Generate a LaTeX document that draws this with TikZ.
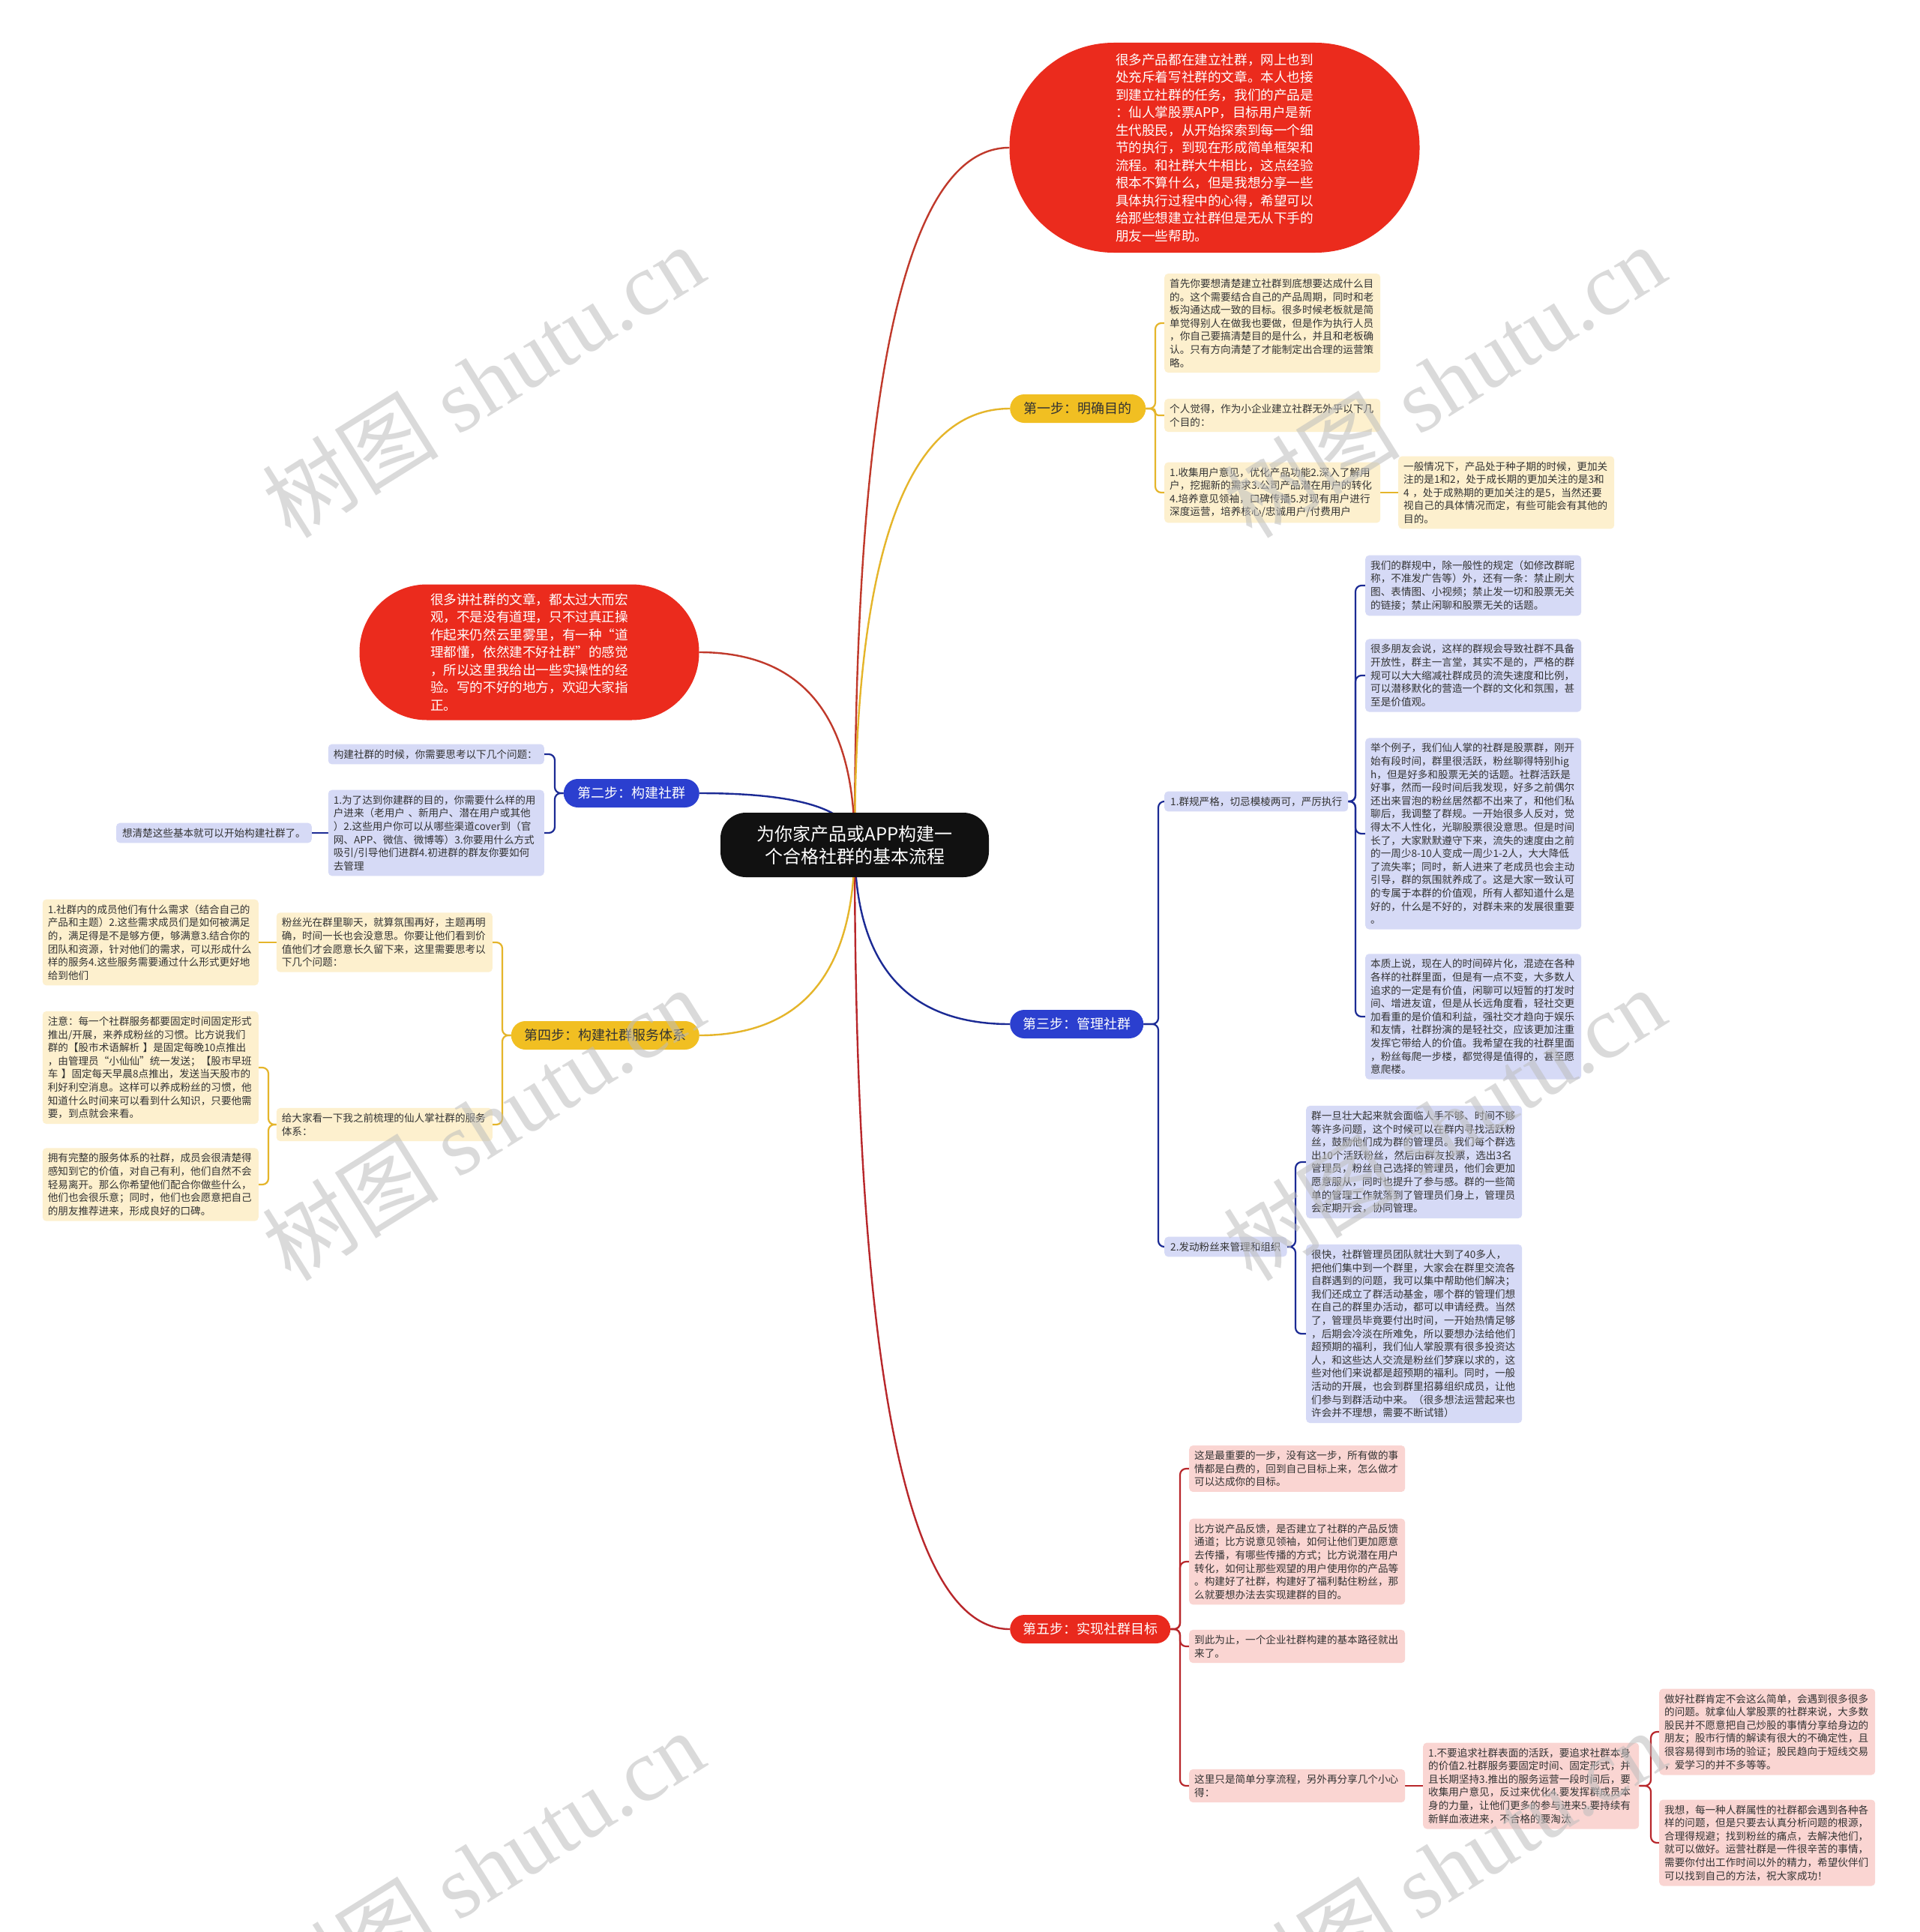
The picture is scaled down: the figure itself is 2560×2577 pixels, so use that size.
\documentclass[tikz,border=0pt]{standalone}
\usepackage{fontspec}
\setmainfont{Noto Sans CJK SC}
\newfontfamily\wmlatin{Liberation Serif}
\definecolor{rootfill}{HTML}{111111}
\definecolor{bigred}{HTML}{EB2B1D}
\definecolor{stepyellow}{HTML}{F1BF22}
\definecolor{stepblue}{HTML}{2B3FCF}
\definecolor{stepred}{HTML}{E9291D}
\definecolor{ynotefill}{HTML}{FDF0CE}
\definecolor{bnotefill}{HTML}{D6DAF6}
\definecolor{rnotefill}{HTML}{FAD5D2}
\definecolor{notetext}{HTML}{333333}
\definecolor{yline}{HTML}{E5B52A}
\definecolor{bline}{HTML}{1B2A94}
\definecolor{rline}{HTML}{B8272B}
\definecolor{introline}{HTML}{C0392B}
\definecolor{wmgray}{HTML}{BDBDBD}
\pgfdeclarelayer{bg}
\pgfdeclarelayer{fg}
\pgfsetlayers{bg,main,fg}
\tikzset{
  rootbox/.style={fill=rootfill, text=white, rounded corners=34pt, minimum width=358pt, minimum height=86pt, align=center, font=\fontsize{24}{30}\selectfont},
  bigbubble/.style={fill=bigred, text=white, align=left, font=\fontsize{17.6}{23.5}\selectfont},
  stepbox/.style={rounded corners=19pt, minimum height=38pt, inner xsep=14pt, font=\fontsize{18}{22}\selectfont},
  yellowstep/.style={stepbox, fill=stepyellow, text=notetext},
  bluestep/.style={stepbox, fill=stepblue, text=white},
  redstep/.style={stepbox, fill=stepred, text=white},
  notebase/.style={rounded corners=5pt, inner xsep=7pt, inner ysep=7pt, align=left, text=notetext, font=\fontsize{13.6}{17.6}\selectfont},
  notebox/.style={notebase, text width=274pt},
  ynote/.style={notebox, fill=ynotefill},
  bnote/.style={notebox, fill=bnotefill},
  rnote/.style={notebox, fill=rnotefill},
  bsingle/.style={notebase, fill=bnotefill, inner xsep=8pt},
  rootline/.style={line width=2.4pt},
  brk/.style={line width=2.2pt, rounded corners=8pt},
  wmark/.style={text=wmgray, opacity=0.55, rotate=32, font=\fontsize{118}{130}\selectfont}
}
\begin{document}
\begin{tikzpicture}[x=1pt,y=-1pt]
\useasboundingbox (0,0) rectangle (2560,2577);

% root
\node[rootbox] (root) at (1140,1127) {为你家产品或APP构建一\\个合格社群的基本流程};

% intro bubbles
\node[bigbubble, minimum width=547pt, minimum height=280pt, rounded corners=139pt] (intro1) at (1620,197) {很多产品都在建立社群，网上也到\\处充斥着写社群的文章。本人也接\\到建立社群的任务，我们的产品是\\：仙人掌股票APP，目标用户是新\\生代股民，从开始探索到每一个细\\节的执行，到现在形成简单框架和\\流程。和社群大牛相比，这点经验\\根本不算什么，但是我想分享一些\\具体执行过程中的心得，希望可以\\给那些想建立社群但是无从下手的\\朋友一些帮助。};
\node[bigbubble, minimum width=453pt, minimum height=181pt, rounded corners=90pt] (intro2) at (706,870) {很多讲社群的文章，都太过大而宏\\观，不是没有道理，只不过真正操\\作起来仍然云里雾里，有一种“道\\理都懂，依然建不好社群”的感觉\\，所以这里我给出一些实操性的经\\验。写的不好的地方，欢迎大家指\\正。};

% steps
\node[yellowstep, anchor=west, minimum width=181pt] (s1) at (1347,545) {第一步：明确目的};
\node[bluestep, anchor=east, minimum width=181pt] (s2) at (933,1058) {第二步：构建社群};
\node[bluestep, anchor=west, minimum width=178pt] (s3) at (1347,1366) {第三步：管理社群};
\node[yellowstep, anchor=east, minimum width=251pt] (s4) at (933,1381) {第四步：构建社群服务体系};
\node[redstep, anchor=west, minimum width=214pt] (s5) at (1347,2173) {第五步：实现社群目标};

% step 1 notes
\node[ynote, anchor=west] (n1a) at (1553,431) {首先你要想清楚建立社群到底想要达成什么目\\的。这个需要结合自己的产品周期，同时和老\\板沟通达成一致的目标。很多时候老板就是简\\单觉得别人在做我也要做，但是作为执行人员\\，你自己要搞清楚目的是什么，并且和老板确\\认。只有方向清楚了才能制定出合理的运营策\\略。};
\node[ynote, anchor=west] (n1b) at (1553,554) {个人觉得，作为小企业建立社群无外乎以下几\\个目的：};
\node[ynote, anchor=west] (n1c) at (1553,657) {1.收集用户意见，优化产品功能2.深入了解用\\户，挖掘新的需求3.公司产品潜在用户的转化\\4.培养意见领袖，口碑传播5.对现有用户进行\\深度运营，培养核心/忠诚用户/付费用户};
\node[ynote, anchor=west] (n1d) at (1865,657) {一般情况下，产品处于种子期的时候，更加关\\注的是1和2，处于成长期的更加关注的是3和\\4~，处于成熟期的更加关注的是5，当然还要\\视自己的具体情况而定，有些可能会有其他的\\目的。};

% step 2 notes
\node[bnote, anchor=east] (n2a) at (726,1006) {构建社群的时候，你需要思考以下几个问题：};
\node[bnote, anchor=east] (n2b) at (726,1111) {1.为了达到你建群的目的，你需要什么样的用\\户进来（老用户~、新用户、潜在用户或其他\\）2.这些用户你可以从哪些渠道cover到（官\\网、APP、微信、微博等）3.你要用什么方式\\吸引/引导他们进群4.初进群的群友你要如何\\去管理};
\node[bsingle, anchor=east] (n2c) at (416,1111) {想清楚这些基本就可以开始构建社群了。};

% step 3 notes
\node[bsingle, anchor=west] (s31) at (1553,1069) {1.群规严格，切忌模棱两可，严厉执行};
\node[bsingle, anchor=west] (s32) at (1553,1663) {2.发动粉丝来管理和组织};
\node[bnote, anchor=west] (n3a) at (1821,781) {我们的群规中，除一般性的规定（如修改群昵\\称，不准发广告等）外，还有一条：禁止刷大\\图、表情图、小视频；禁止发一切和股票无关\\的链接；禁止闲聊和股票无关的话题。};
\node[bnote, anchor=west] (n3b) at (1821,901) {很多朋友会说，这样的群规会导致社群不具备\\开放性，群主一言堂，其实不是的，严格的群\\规可以大大缩减社群成员的流失速度和比例，\\可以潜移默化的营造一个群的文化和氛围，甚\\至是价值观。};
\node[bnote, anchor=west] (n3c) at (1821,1112) {举个例子，我们仙人掌的社群是股票群，刚开\\始有段时间，群里很活跃，粉丝聊得特别hig\\h，但是好多和股票无关的话题。社群活跃是\\好事，然而一段时间后我发现，好多之前偶尔\\还出来冒泡的粉丝居然都不出来了，和他们私\\聊后，我调整了群规。一开始很多人反对，觉\\得太不人性化，光聊股票很没意思。但是时间\\长了，大家默默遵守下来，流失的速度由之前\\的一周少8-10人变成一周少1-2人，大大降低\\了流失率；同时，新人进来了老成员也会主动\\引导，群的氛围就养成了。这是大家一致认可\\的专属于本群的价值观，所有人都知道什么是\\好的，什么是不好的，对群未来的发展很重要\\。};
\node[bnote, anchor=west] (n3d) at (1821,1356) {本质上说，现在人的时间碎片化，混迹在各种\\各样的社群里面，但是有一点不变，大多数人\\追求的一定是有价值，闲聊可以短暂的打发时\\间、增进友谊，但是从长远角度看，轻社交更\\加看重的是价值和利益，强社交才趋向于娱乐\\和友情，社群扮演的是轻社交，应该更加注重\\发挥它带给人的价值。我希望在我的社群里面\\，粉丝每爬一步楼，都觉得是值得的，甚至愿\\意爬楼。};
\node[bnote, anchor=west] (n3e) at (1742,1550) {群一旦壮大起来就会面临人手不够、时间不够\\等许多问题，这个时候可以在群内寻找活跃粉\\丝，鼓励他们成为群的管理员。我们每个群选\\出10个活跃粉丝，然后由群友投票，选出3名\\管理员，粉丝自己选择的管理员，他们会更加\\愿意服从，同时也提升了参与感。群的一些简\\单的管理工作就落到了管理员们身上，管理员\\会定期开会，协同管理。};
\node[bnote, anchor=west] (n3f) at (1742,1779) {很快，社群管理员团队就壮大到了40多人，\\把他们集中到一个群里，大家会在群里交流各\\自群遇到的问题，我可以集中帮助他们解决；\\我们还成立了群活动基金，哪个群的管理们想\\在自己的群里办活动，都可以申请经费。当然\\了，管理员毕竟要付出时间，一开始热情足够\\，后期会冷淡在所难免，所以要想办法给他们\\超预期的福利，我们仙人掌股票有很多投资达\\人，和这些达人交流是粉丝们梦寐以求的，这\\些对他们来说都是超预期的福利。同时，一般\\活动的开展，也会到群里招募组织成员，让他\\们参与到群活动中来。（很多想法运营起来也\\许会并不理想，需要不断试错）};

% step 4 notes
\node[ynote, anchor=east] (n4a) at (657,1257) {粉丝光在群里聊天，就算氛围再好，主题再明\\确，时间一长也会没意思。你要让他们看到价\\值他们才会愿意长久留下来，这里需要思考以\\下几个问题：};
\node[ynote, anchor=east] (n4b) at (657,1500) {给大家看一下我之前梳理的仙人掌社群的服务\\体系：};
\node[ynote, anchor=east] (n4c) at (345,1257) {1.社群内的成员他们有什么需求（结合自己的\\产品和主题）2.这些需求成员们是如何被满足\\的，满足得是不是够方便，够满意3.结合你的\\团队和资源，针对他们的需求，可以形成什么\\样的服务4.这些服务需要通过什么形式更好地\\给到他们};
\node[ynote, anchor=east] (n4d) at (345,1424) {注意：每一个社群服务都要固定时间固定形式\\推出/开展，来养成粉丝的习惯。比方说我们\\群的【股市术语解析~】是固定每晚10点推出\\，由管理员“小仙仙”统一发送；【股市早班\\车~】固定每天早晨8点推出，发送当天股市的\\利好利空消息。这样可以养成粉丝的习惯，他\\知道什么时间来可以看到什么知识，只要他需\\要，到点就会来看。};
\node[ynote, anchor=east] (n4e) at (345,1580) {拥有完整的服务体系的社群，成员会很清楚得\\感知到它的价值，对自己有利，他们自然不会\\轻易离开。那么你希望他们配合你做些什么，\\他们也会很乐意；同时，他们也会愿意把自己\\的朋友推荐进来，形成良好的口碑。};

% step 5 notes
\node[rnote, anchor=west] (n5a) at (1586,1959) {这是最重要的一步，没有这一步，所有做的事\\情都是白费的，回到自己目标上来，怎么做才\\可以达成你的目标。};
\node[rnote, anchor=west] (n5b) at (1586,2083) {比方说产品反馈，是否建立了社群的产品反馈\\通道；比方说意见领袖，如何让他们更加愿意\\去传播，有哪些传播的方式；比方说潜在用户\\转化，如何让那些观望的用户使用你的产品等\\。构建好了社群，构建好了福利黏住粉丝，那\\么就要想办法去实现建群的目的。};
\node[rnote, anchor=west] (n5c) at (1586,2196) {到此为止，一个企业社群构建的基本路径就出\\来了。};
\node[rnote, anchor=west] (n5d) at (1586,2382) {这里只是简单分享流程，另外再分享几个小心\\得：};
\node[rnote, anchor=west] (n5e) at (1898,2382) {1.不要追求社群表面的活跃，要追求社群本身\\的价值2.社群服务要固定时间、固定形式，并\\且长期坚持3.推出的服务运营一段时间后，要\\收集用户意见，反过来优化4.要发挥群成员本\\身的力量，让他们更多的参与进来5.要持续有\\新鲜血液进来，不合格的要淘汰};
\node[rnote, anchor=west] (n5f) at (2213,2310) {做好社群肯定不会这么简单，会遇到很多很多\\的问题。就拿仙人掌股票的社群来说，大多数\\股民并不愿意把自己炒股的事情分享给身边的\\朋友；股市行情的解读有很大的不确定性，且\\很容易得到市场的验证；股民趋向于短线交易\\，爱学习的并不多等等。};
\node[rnote, anchor=west] (n5g) at (2213,2458) {我想，每一种人群属性的社群都会遇到各种各\\样的问题，但是只要去认真分析问题的根源，\\合理得规避；找到粉丝的痛点，去解决他们，\\就可以做好。运营社群是一件很辛苦的事情，\\需要你付出工作时间以外的精力，希望伙伴们\\可以找到自己的方法，祝大家成功！};

\begin{pgfonlayer}{bg}
\fill[white] (0,0) rectangle (2560,2577);
% root connectors
\draw[rootline, introline] (root.center) .. controls (1140,507) and (1209,197) .. (intro1.west);
\draw[rootline, yline] (root.center) .. controls (1140,739) and (1209,545) .. (s1.west);
\draw[rootline, bline] (root.center) .. controls (1140,1286) and (1209,1366) .. (s3.west);
\draw[rootline, rline] (root.center) .. controls (1140,1824) and (1209,2173) .. (s5.west);
\draw[rootline, introline] (root.center) .. controls (1140,956) and (1071,870) .. (intro2.east);
\draw[rootline, bline] (root.center) .. controls (1140,1081) and (1071,1058) .. (s2.east);
\draw[rootline, yline] (root.center) .. controls (1140,1296) and (1071,1381) .. (s4.east);

% step 1
\draw[brk, yline] (s1.east) -- (1541,545) -- (1541,431) -- (n1a.west);
\draw[brk, yline, rounded corners=4pt] (s1.east) -- (1541,545) -- (1541,554) -- (n1b.west);
\draw[brk, yline] (s1.east) -- (1541,545) -- (1541,657) -- (n1c.west);
\draw[brk, yline] (n1c.east) -- (n1d.west);

% step 2
\draw[brk, bline] (s2.west) -- (740,1058) -- (740,1006) -- (n2a.east);
\draw[brk, bline] (s2.west) -- (740,1058) -- (740,1111) -- (n2b.east);
\draw[brk, bline] (n2b.west) -- (n2c.east);

% step 3
\draw[brk, bline] (s3.east) -- (1545,1366) -- (1545,1069) -- (s31.west);
\draw[brk, bline] (s3.east) -- (1545,1366) -- (1545,1663) -- (s32.west);
\draw[brk, bline] (s31.east) -- (1808,1069) -- (1808,781) -- (n3a.west);
\draw[brk, bline] (s31.east) -- (1808,1069) -- (1808,901) -- (n3b.west);
\draw[brk, bline] (s31.east) -- (1808,1069) -- (1808,1112) -- (n3c.west);
\draw[brk, bline] (s31.east) -- (1808,1069) -- (1808,1356) -- (n3d.west);
\draw[brk, bline] (s32.east) -- (1728,1663) -- (1728,1550) -- (n3e.west);
\draw[brk, bline] (s32.east) -- (1728,1663) -- (1728,1779) -- (n3f.west);

% step 4
\draw[brk, yline] (s4.west) -- (670,1381) -- (670,1257) -- (n4a.east);
\draw[brk, yline] (s4.west) -- (670,1381) -- (670,1500) -- (n4b.east);
\draw[brk, yline] (n4a.west) -- (n4c.east);
\draw[brk, yline] (n4b.west) -- (358,1500) -- (358,1424) -- (n4d.east);
\draw[brk, yline] (n4b.west) -- (358,1500) -- (358,1580) -- (n4e.east);

% step 5
\draw[brk, rline] (s5.east) -- (1574,2173) -- (1574,1959) -- (n5a.west);
\draw[brk, rline] (s5.east) -- (1574,2173) -- (1574,2083) -- (n5b.west);
\draw[brk, rline] (s5.east) -- (1574,2173) -- (1574,2196) -- (n5c.west);
\draw[brk, rline] (s5.east) -- (1574,2173) -- (1574,2382) -- (n5d.west);
\draw[brk, rline] (n5d.east) -- (n5e.west);
\draw[brk, rline] (n5e.east) -- (2202,2382) -- (2202,2310) -- (n5f.west);
\draw[brk, rline] (n5e.east) -- (2202,2382) -- (2202,2458) -- (n5g.west);
\end{pgfonlayer}

\begin{pgfonlayer}{fg}
\node[wmark] (wm1) at (644,508) {树图 {\wmlatin shutu.cn}};
\node[wmark] (wm2) at (1926,508) {树图 {\wmlatin shutu.cn}};
\node[wmark] (wm3) at (644,1499) {树图 {\wmlatin shutu.cn}};
\node[wmark] (wm4) at (1926,1499) {树图 {\wmlatin shutu.cn}};
\node[wmark] (wm5) at (644,2490) {树图 {\wmlatin shutu.cn}};
\node[wmark] (wm6) at (1926,2490) {树图 {\wmlatin shutu.cn}};
\end{pgfonlayer}
\end{tikzpicture}
\end{document}
